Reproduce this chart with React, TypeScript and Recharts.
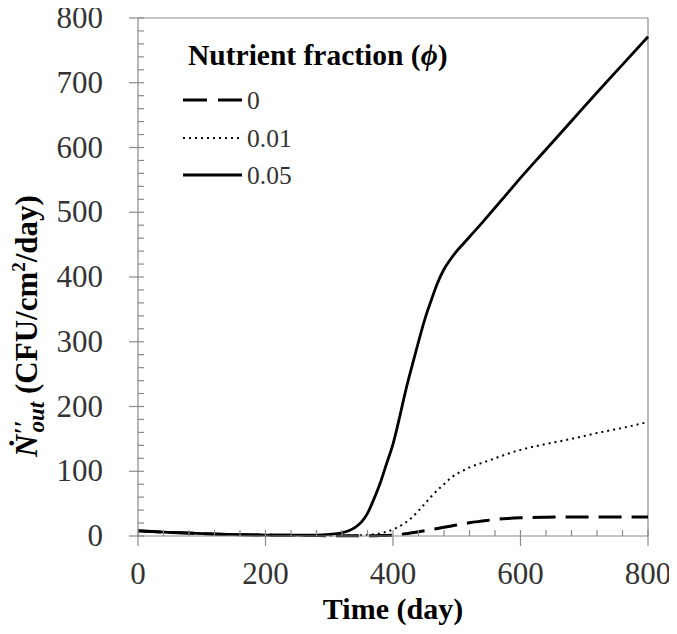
import React from 'react';
import { LineChart, Line, XAxis, YAxis, ReferenceLine, Legend } from 'recharts';

const times = [0, 40, 80, 120, 160, 200, 240, 280, 300, 320, 340, 350, 360, 370, 380, 390, 400, 410, 420, 430, 440, 450, 460, 470, 480, 490, 500, 510, 520, 540, 560, 580, 600, 640, 680, 720, 760, 800];
const phi0 = [8, 6, 4.5, 3, 2, 1.5, 1, 0.6, 0.5, 0.4, 0.4, 0.4, 0.4, 0.5, 0.6, 0.8, 1.2, 2, 3.5, 5, 6.7, 8.3, 10, 11.7, 13.4, 15.2, 17, 18.8, 20.5, 23, 25.5, 27, 28, 29, 29.5, 29.5, 29.5, 29.5];
const phi001 = [8, 6, 4.5, 3, 2, 1.5, 1, 0.8, 0.8, 0.8, 1, 1.3, 1.8, 2.5, 4, 6.5, 10, 15, 21, 29, 39, 50, 61, 71, 80, 89, 96, 101, 106, 113, 120, 127, 133, 142, 150, 159, 167, 176];
const phi005 = [8, 6, 4.5, 3, 2, 1.5, 1.2, 1.5, 2.5, 5, 13, 21, 35, 57, 82, 112, 142, 182, 225, 263, 300, 335, 364, 391, 412, 427, 440, 451, 462, 484, 507, 530, 553, 597, 641, 685, 728, 771];

const xTicks = [0, 40, 80, 120, 160, 200, 240, 280, 320, 360, 400, 440, 480, 520, 560, 600, 640, 680, 720, 760, 800];
const yTicks = [0, 20, 40, 60, 80, 100, 120, 140, 160, 180, 200, 220, 240, 260, 280, 300, 320, 340, 360, 380, 400, 420, 440, 460, 480, 500, 520, 540, 560, 580, 600, 620, 640, 660, 680, 700, 720, 740, 760, 780, 800];
const xMajorStep = 200;
const yMajorStep = 100;

const legendTitle = 'Nutrient fraction (';
const legendSymbol = 'ϕ';
const seriesNames = ['0', '0.01', '0.05'];
const xTitle = 'Time (day)';

const data = times.map((t, i) => ({ t, a: phi0[i], b: phi001[i], c: phi005[i] }));

const SERIF = '"Liberation Serif", "Times New Roman", "DejaVu Serif", serif';
const AXIS = '#8a8a8a';
const TICKTXT = '#333';

const DASH = '23 10';
const DOT = '2 4';

const XTick = (props: any) => {
  const { x, y, payload } = props;
  const v = payload.value;
  const major = v % xMajorStep === 0;
  return (
    <g>
      <line x1={x} x2={x} y1={y - 6} y2={major ? y + 10 : y} stroke={AXIS} strokeWidth={1.2} />
      {major && (
        <text x={x} y={y + 48} textAnchor="middle" fontSize={31} fontFamily={SERIF} fill={TICKTXT}>
          {v}
        </text>
      )}
    </g>
  );
};

const YTick = (props: any) => {
  const { x, y, payload } = props;
  const v = payload.value;
  const major = v % yMajorStep === 0;
  return (
    <g>
      <line x1={major ? x - 9 : x} x2={x + 6} y1={y} y2={y} stroke={AXIS} strokeWidth={1.2} />
      {major && (
        <text x={x - 35} y={y + 10} textAnchor="end" fontSize={31} fontFamily={SERIF} fill={TICKTXT}>
          {v}
        </text>
      )}
    </g>
  );
};

const YLabel = () => (
  <text
    transform="translate(37,326) rotate(-90)"
    textAnchor="middle"
    fontFamily={SERIF}
    fontWeight="bold"
    fontSize={31}
    fill="#000"
  >
    <tspan fontStyle="italic">Ṅ</tspan>
    <tspan fontStyle="italic" fontSize={25} dy={-5}>′′</tspan>
    <tspan fontStyle="italic" fontSize={23} dx={-12} dy={12}>out</tspan>
    <tspan dy={-7}> (CFU/cm</tspan>
    <tspan fontSize={19} dy={-12}>2</tspan>
    <tspan dy={12}>/day)</tspan>
  </text>
);

const XLabel = () => (
  <text x={393} y={619} textAnchor="middle" fontFamily={SERIF} fontWeight="bold" fontSize={30} fill="#000">
    {xTitle}
  </text>
);

const LegendContent = () => {
  const rows = [67, 105, 142];
  const styles = [
    { dash: '24 11', w: 3 },
    { dash: DOT, w: 2 },
    { dash: undefined, w: 3 },
  ];
  return (
    <svg width={300} height={160}>
      <text x={10} y={32} fontFamily={SERIF} fontWeight="bold" fontSize={29.5} fill="#000">
        {legendTitle}
        <tspan fontStyle="italic">{legendSymbol}</tspan>)
      </text>
      {seriesNames.map((n, i) => (
        <g key={n}>
          <line x1={5} x2={64} y1={rows[i]} y2={rows[i]} stroke="#000" strokeWidth={styles[i].w} strokeDasharray={styles[i].dash} />
          <text x={69} y={rows[i] + 9} fontFamily={SERIF} fontSize={25.5} fill={TICKTXT}>
            {n}
          </text>
        </g>
      ))}
    </svg>
  );
};

export default function App() {
  return (
    <div style={{ margin: '-8px 0 0 -8px', width: 677, height: 634 }}>
      <LineChart width={677} height={634} data={data} margin={{ top: 18, right: 29, left: 0, bottom: 0 }}>
        <XAxis
          dataKey="t"
          type="number"
          domain={[0, 800]}
          ticks={xTicks}
          interval={0}
          tickSize={0}
          tickMargin={0}
          tickLine={false}
          tick={<XTick />}
          axisLine={{ stroke: AXIS, strokeWidth: 1.2 }}
          height={98}
          label={<XLabel />}
        />
        <YAxis
          type="number"
          domain={[0, 800]}
          ticks={yTicks}
          interval={0}
          tickSize={0}
          tickMargin={0}
          tickLine={false}
          tick={<YTick />}
          axisLine={{ stroke: AXIS, strokeWidth: 1.2 }}
          width={138}
          label={<YLabel />}
        />
        <ReferenceLine y={800} stroke={AXIS} strokeWidth={1.2} />
        <ReferenceLine x={800} stroke={AXIS} strokeWidth={1.2} />
        <Legend
          layout="horizontal"
          verticalAlign="middle"
          align="center"
          content={<LegendContent />}
          wrapperStyle={{ left: 178, top: 33, width: 300, height: 160 }}
        />
        <Line dataKey="a" type="monotone" stroke="#000" strokeWidth={3} strokeDasharray={DASH} dot={false} isAnimationActive={false} />
        <Line dataKey="b" type="monotone" stroke="#000" strokeWidth={2} strokeDasharray={DOT} dot={false} isAnimationActive={false} />
        <Line dataKey="c" type="monotone" stroke="#000" strokeWidth={2.8} dot={false} isAnimationActive={false} />
      </LineChart>
    </div>
  );
}
